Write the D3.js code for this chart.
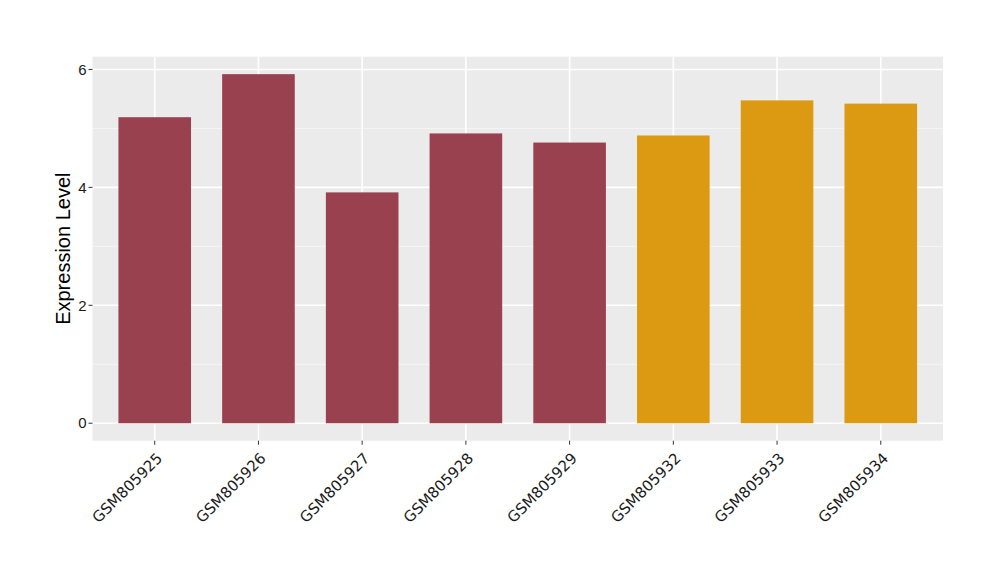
<!DOCTYPE html>
<html><head><meta charset="utf-8">
<script src="https://cdn.jsdelivr.net/npm/d3@7"></script>
<style>body{margin:0;background:#fff}svg{display:block}</style>
</head><body><svg id="c" width="1000" height="580"></svg>
<script>
const categories = ["GSM805925","GSM805926","GSM805927","GSM805928","GSM805929","GSM805932","GSM805933","GSM805934"];
const values = [5.19, 5.92, 3.915, 4.915, 4.76, 4.88, 5.475, 5.42];
const groups = ["A","A","A","A","A","B","B","B"];
const yTicks = [0, 2, 4, 6];
const yMinor = [1, 3, 5];
const groupColors = {A: "#99414F", B: "#DC9A13"};

const svg = d3.select("#c");
const L = 92.5, R = 943, T = 56.7, B = 440.7;
const maxV = d3.max(values);
const pad = maxV * 0.05;
const y = d3.scaleLinear().domain([-pad, maxV + pad]).range([B, T]);
const n = categories.length;
const step = (R - L) / (n - 1 + 1.2);
const xc = d3.scalePoint().domain(categories).range([L + 0.6 * step, R - 0.6 * step]);
const bw = 0.7 * step;

svg.append("rect").attr("x", L).attr("y", T).attr("width", R - L).attr("height", B - T).attr("fill", "#EBEBEB");
svg.selectAll(".ymin").data(yMinor).enter().append("line")
  .attr("x1", L).attr("x2", R).attr("y1", d => y(d)).attr("y2", d => y(d))
  .attr("stroke", "#fff").attr("stroke-width", 0.8).attr("opacity", 0.7);
svg.selectAll(".ymaj").data(yTicks).enter().append("line")
  .attr("x1", L).attr("x2", R).attr("y1", d => y(d)).attr("y2", d => y(d))
  .attr("stroke", "#fff").attr("stroke-width", 1.6);
svg.selectAll(".xmaj").data(categories).enter().append("line")
  .attr("x1", d => xc(d)).attr("x2", d => xc(d)).attr("y1", T).attr("y2", B)
  .attr("stroke", "#fff").attr("stroke-width", 1.6);

svg.selectAll(".bar").data(categories).enter().append("rect")
  .attr("x", d => xc(d) - bw / 2).attr("width", bw)
  .attr("y", (d, i) => y(values[i])).attr("height", (d, i) => y(0) - y(values[i]))
  .attr("fill", (d, i) => groupColors[groups[i]]);

const ya = svg.append("g");
yTicks.forEach(t => {
  ya.append("line").attr("x1", L - 4).attr("x2", L).attr("y1", y(t)).attr("y2", y(t)).attr("stroke", "#333").attr("stroke-width", 1);
  ya.append("text").attr("x", L - 6).attr("y", y(t)).attr("dy", "0.35em").attr("text-anchor", "end")
    .attr("font-family", "Liberation Sans, Arial, sans-serif").attr("font-size", 15).attr("fill", "#1a1a1a").text(t);
});
const xa = svg.append("g");
categories.forEach(c => {
  xa.append("line").attr("x1", xc(c)).attr("x2", xc(c)).attr("y1", B).attr("y2", B + 4).attr("stroke", "#333").attr("stroke-width", 1);
  xa.append("text").attr("transform", `translate(${xc(c) + 1},${B + 11}) rotate(-45)`)
    .attr("text-anchor", "end").attr("dy", "0.7em")
    .attr("font-family", "DejaVu Sans, sans-serif").attr("font-size", 15).attr("fill", "#1a1a1a").text(c);
});
svg.append("text").attr("transform", `translate(70,${(T + B) / 2}) rotate(-90)`)
  .attr("text-anchor", "middle").attr("font-family", "Liberation Sans, Arial, sans-serif")
  .attr("font-size", 20).attr("fill", "#000").text("Expression Level");
</script></body></html>
